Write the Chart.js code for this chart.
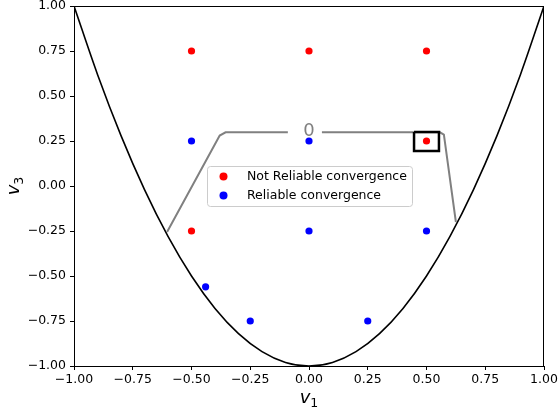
<!DOCTYPE html>
<html>
<head>
<meta charset="utf-8">
<script src="https://cdn.jsdelivr.net/npm/chart.js@4.4.1/dist/chart.umd.min.js"></script>
<style>
  html, body { margin: 0; padding: 0; background: #fff; }
  #wrap { width: 560px; height: 417px; }
</style>
</head>
<body>
<div id="wrap"><canvas id="chart" width="560" height="417"></canvas></div>
<script>
// values
const boundaryX = [-1, -0.9, -0.8, -0.7, -0.6, -0.5, -0.4, -0.3, -0.2, -0.1, 0, 0.1, 0.2, 0.3, 0.4, 0.5, 0.6, 0.7, 0.8, 0.9, 1];
const boundaryY = [1, 0.62, 0.28, -0.02, -0.28, -0.5, -0.68, -0.82, -0.92, -0.98, -1, -0.98, -0.92, -0.82, -0.68, -0.5, -0.28, -0.02, 0.28, 0.62, 1];

const contourX = [-0.604, -0.38, -0.355, -0.09, 0, 0.055, 0.557, 0.574, 0.625];
const contourY = [-0.256, 0.28, 0.298, 0.298, null, 0.298, 0.298, 0.285, -0.2];
const contourLabel = "0";

const notReliableX = [-0.5, 0, 0.5, 0.5, -0.5];
const notReliableY = [0.75, 0.75, 0.75, 0.25, -0.25];
const reliableX = [-0.5, 0, 0, 0.5, -0.44, -0.25, 0.25];
const reliableY = [0.25, 0.25, -0.25, -0.25, -0.56, -0.75, -0.75];

const boxX = [0.447, 0.553, 0.553, 0.447, 0.447];
const boxY = [0.300, 0.300, 0.194, 0.194, 0.300];

const tickValues = [-1, -0.75, -0.5, -0.25, 0, 0.25, 0.5, 0.75, 1];
const seriesNames = ["Not Reliable convergence", "Reliable convergence"];
const xTitle = ["v", "1"];
const yTitle = ["v", "3"];

function pts(xs, ys) {
  return xs.map((x, i) => ({ x: x, y: ys[i] }));
}

function fmt(v) {
  let s = Number(v).toFixed(2);
  return s.replace("-", "\u2212");
}

const FONT = "'DejaVu Sans', sans-serif";

// frame, contour label, legend and axis titles
const extras = {
  id: "extras",
  afterDatasetsDraw(chart) {
    const ctx = chart.ctx;
    const a = chart.chartArea;
    const xs = chart.scales.x;
    const ys = chart.scales.y;
    ctx.save();

    // top and right spines
    ctx.strokeStyle = "#000";
    ctx.lineWidth = 1;
    ctx.beginPath();
    ctx.moveTo(a.left, a.top + 0.5);
    ctx.lineTo(a.right - 0.5, a.top + 0.5);
    ctx.lineTo(a.right - 0.5, a.bottom);
    ctx.stroke();

    // contour label
    ctx.fillStyle = "#808080";
    ctx.font = "18px " + FONT;
    ctx.textAlign = "center";
    ctx.textBaseline = "middle";
    ctx.fillText(contourLabel, xs.getPixelForValue(0), ys.getPixelForValue(0.298) - 1);

    // legend
    const lx = a.left + 133, ly = a.top + 160, lw = 205, lh = 40;
    ctx.fillStyle = "rgba(255,255,255,0.8)";
    ctx.strokeStyle = "#cccccc";
    ctx.lineWidth = 1;
    ctx.beginPath();
    ctx.roundRect(lx + 0.5, ly + 0.5, lw, lh, 3);
    ctx.fill();
    ctx.stroke();
    const colors = ["#ff0000", "#0000ff"];
    ctx.font = "12.5px " + FONT;
    ctx.textAlign = "left";
    ctx.textBaseline = "middle";
    for (let i = 0; i < seriesNames.length; i++) {
      const cy = ly + 10.5 + i * 19;
      ctx.fillStyle = colors[i];
      ctx.beginPath();
      ctx.arc(lx + 16.5, cy, 4, 0, Math.PI * 2);
      ctx.fill();
      ctx.fillStyle = "#000";
      ctx.fillText(seriesNames[i], lx + 40, cy);
    }

    // x title
    ctx.fillStyle = "#000";
    ctx.textBaseline = "alphabetic";
    const cx = (a.left + a.right) / 2;
    ctx.font = "italic 18px " + FONT;
    const vw = ctx.measureText(xTitle[0]).width;
    ctx.font = "12.5px " + FONT;
    const sw = ctx.measureText(xTitle[1]).width;
    let x0 = cx - (vw + sw) / 2;
    ctx.font = "italic 18px " + FONT;
    ctx.fillText(xTitle[0], x0, 403);
    ctx.font = "12.5px " + FONT;
    ctx.fillText(xTitle[1], x0 + vw, 407);

    // y title
    ctx.translate(19, (a.top + a.bottom) / 2);
    ctx.rotate(-Math.PI / 2);
    x0 = -(vw + sw) / 2;
    ctx.font = "italic 18px " + FONT;
    ctx.fillText(yTitle[0], x0, 0);
    ctx.font = "12.5px " + FONT;
    ctx.fillText(yTitle[1], x0 + vw, 4);

    ctx.restore();
  },
};

new Chart(document.getElementById("chart"), {
  type: "scatter",
  data: {
    datasets: [
      {
        label: "boundary",
        data: pts(boundaryX, boundaryY),
        showLine: true,
        borderColor: "#000",
        borderWidth: 1.6,
        pointRadius: 0,
        cubicInterpolationMode: "monotone",
        order: 4,
      },
      {
        label: "contour",
        data: pts(contourX, contourY),
        showLine: true,
        spanGaps: false,
        borderColor: "#808080",
        borderWidth: 2,
        pointRadius: 0,
        order: 3,
      },
      {
        label: seriesNames[0],
        data: pts(notReliableX, notReliableY),
        backgroundColor: "#ff0000",
        borderWidth: 0,
        pointRadius: 3.6,
        order: 1,
      },
      {
        label: seriesNames[1],
        data: pts(reliableX, reliableY),
        backgroundColor: "#0000ff",
        borderWidth: 0,
        pointRadius: 3.6,
        order: 1,
      },
      {
        label: "box",
        data: pts(boxX, boxY),
        showLine: true,
        borderColor: "#000",
        borderWidth: 2.5,
        borderJoinStyle: "miter",
        pointRadius: 0,
        order: 2,
      },
    ],
  },
  options: {
    responsive: false,
    animation: false,
    layout: { padding: { top: 6, right: 16, left: 0, bottom: 0 } },
    plugins: {
      legend: { display: false },
      tooltip: { enabled: false },
    },
    scales: {
      x: {
        type: "linear",
        min: -1,
        max: 1,
        afterBuildTicks(scale) {
          scale.ticks = tickValues.map((v) => ({ value: v }));
        },
        afterFit(scale) {
          scale.height = 51;
          scale.paddingLeft = 0;
          scale.paddingRight = 0;
        },
        grid: { drawOnChartArea: false, tickLength: 4, color: "#000", tickWidth: 1 },
        border: { display: true, color: "#000", width: 1 },
        ticks: {
          color: "#000",
          padding: 2,
          maxRotation: 0,
          autoSkip: false,
          font: { family: FONT, size: 12.5 },
          callback: (v) => fmt(v),
        },
      },
      y: {
        type: "linear",
        min: -1,
        max: 1,
        afterBuildTicks(scale) {
          scale.ticks = tickValues.map((v) => ({ value: v }));
        },
        afterFit(scale) {
          scale.width = 74;
          scale.paddingTop = 0;
          scale.paddingBottom = 0;
        },
        grid: { drawOnChartArea: false, tickLength: 4, color: "#000", tickWidth: 1 },
        border: { display: true, color: "#000", width: 1 },
        ticks: {
          color: "#000",
          padding: 4,
          autoSkip: false,
          font: { family: FONT, size: 12.5 },
          callback: (v) => fmt(v),
        },
      },
    },
  },
  plugins: [extras],
});
</script>
</body>
</html>
